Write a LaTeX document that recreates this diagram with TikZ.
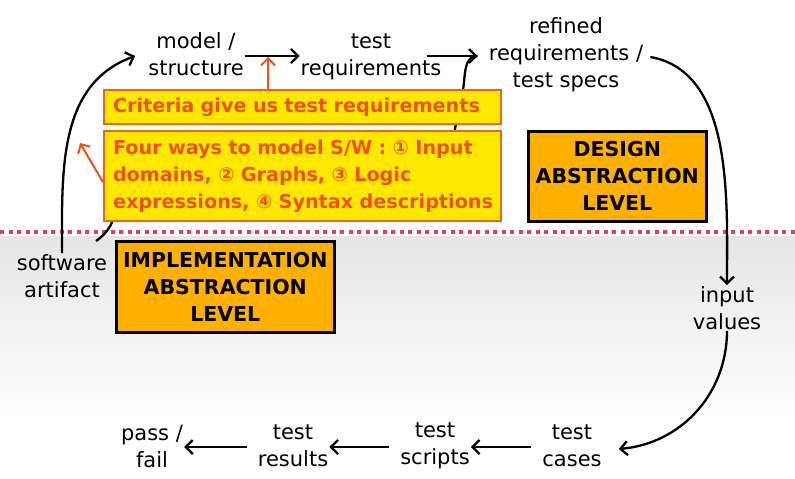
\documentclass[tikz,border=0pt]{standalone}
\usepackage{fontspec}
\setmainfont{DejaVu Sans}
\usetikzlibrary{arrows.meta}

\definecolor{noteyellow}{HTML}{FFE800}
\definecolor{noteedge}{HTML}{E86A10}
\definecolor{notetext}{HTML}{F0501A}
\definecolor{levelorange}{HTML}{FFB000}
\definecolor{borderpink}{HTML}{E0405A}

\tikzset{
    stage/.style={align=center, font=\fontsize{21}{27}\selectfont, inner sep=1pt},
    notebox/.style={draw=noteedge, line width=2pt, fill=noteyellow, text=notetext,
        font=\bfseries\fontsize{19.2}{27}\selectfont, inner sep=0pt, anchor=north west},
    levelbox/.style={draw=black, line width=2.6pt, fill=levelorange, align=center,
        font=\bfseries\fontsize{20.5}{27}\selectfont, inner sep=0pt, anchor=north west},
    flow/.style={->, line width=2.3pt},
    pointer/.style={->, notetext, line width=2pt}
}

\begin{document}
\begin{tikzpicture}[
    x=1pt, y=-1pt,
    >={Straight Barb[length=7pt, width=14pt]} % open arrow tips
]
    \useasboundingbox (0,0) rectangle (795,479);

    % Implementation side shading
    \shade[top color=black!10, bottom color=white] (0,236) rectangle (795,420);

    % Border between the two levels
    \draw[borderpink, line width=4pt, dash pattern=on 4pt off 4.5pt] (0,232) -- (795,232);

    % Design level artifacts
    \node[stage] (model) at (196,54) {model /\\structure};
    \node[stage] (testreq) at (371,57) {test\\requirements};
    \node[stage] (refined) at (566,55) {refined\\requirements /\\test specs};
    \coordinate (reqarrow) at ([yshift=-2pt]model.east); % height of the top arrows

    % Implementation level artifacts
    \node[stage] (software) at (62,276) {software\\artifact};
    \node[stage] (input) at (727,308) {input\\values};
    \node[stage] (cases) at (572,446) {test\\cases};
    \node[stage] (scripts) at (435,446) {test\\scripts};
    \node[stage] (results) at (293,446) {test\\results};
    \node[stage] (passfail) at (152,446) {pass /\\fail};

    % Connectors (some run behind the notes)
    \draw[line width=2.3pt] (453,145) to[out=85, in=-100] (463,90) to[out=80, in=180] ([xshift=-10pt]refined.west |- reqarrow);
    \draw[line width=2.3pt] (96,241) to[out=35, in=-95] (116,205);
    \draw[flow] (software.north) to[out=90, in=200] ([xshift=-12pt,yshift=-2pt]model.west);
    \draw[flow] (reqarrow) -- (testreq.west |- reqarrow);
    \draw[flow] ([xshift=-15pt]testreq.east |- reqarrow) -- ([xshift=-10pt]refined.west |- reqarrow);
    \draw[flow] ([xshift=6pt,yshift=-2pt]refined.east) to[out=-10, in=90, looseness=0.9] (input.north);
    \draw[flow] (input.south) to[out=-90, in=5] ([xshift=16pt,yshift=-3pt]cases.east);
    \draw[flow, shorten <=10pt] ([yshift=-1pt]cases.west) -- ([yshift=-1pt]scripts.east);
    \draw[flow, shorten <=10pt] ([yshift=-1pt]scripts.west) -- ([yshift=-1pt]results.east);
    \draw[flow, shorten <=10pt] ([yshift=-1pt]results.west) -- ([yshift=-1pt]passfail.east);

    % Notes
    \node[notebox, minimum width=397pt, minimum height=34pt, text width=397pt] (criteria) at (103,89)
        {\hspace{9pt}Criteria give us test requirements};
    \node[notebox, minimum width=397pt, minimum height=90pt, text width=397pt, align=left] (fourways) at (103,130)
        {\hspace{9pt}\parbox{388pt}{Four ways to model S/W : ① Input\\domains, ② Graphs, ③ Logic\\expressions, ④ Syntax descriptions}};
    \draw[pointer] (criteria.north -| 268,0) -- (268,57);
    \draw[pointer] ([yshift=-6pt]fourways.west) -- (80,143);

    % Abstraction levels
    \node[levelbox, minimum width=178pt, minimum height=90pt] (design) at (527,130)
        {DESIGN\\ABSTRACTION\\LEVEL};
    \node[levelbox, minimum width=218pt, minimum height=91pt] (impl) at (115,240)
        {IMPLEMENTATION\\ABSTRACTION\\LEVEL};

\end{tikzpicture}
\end{document}
